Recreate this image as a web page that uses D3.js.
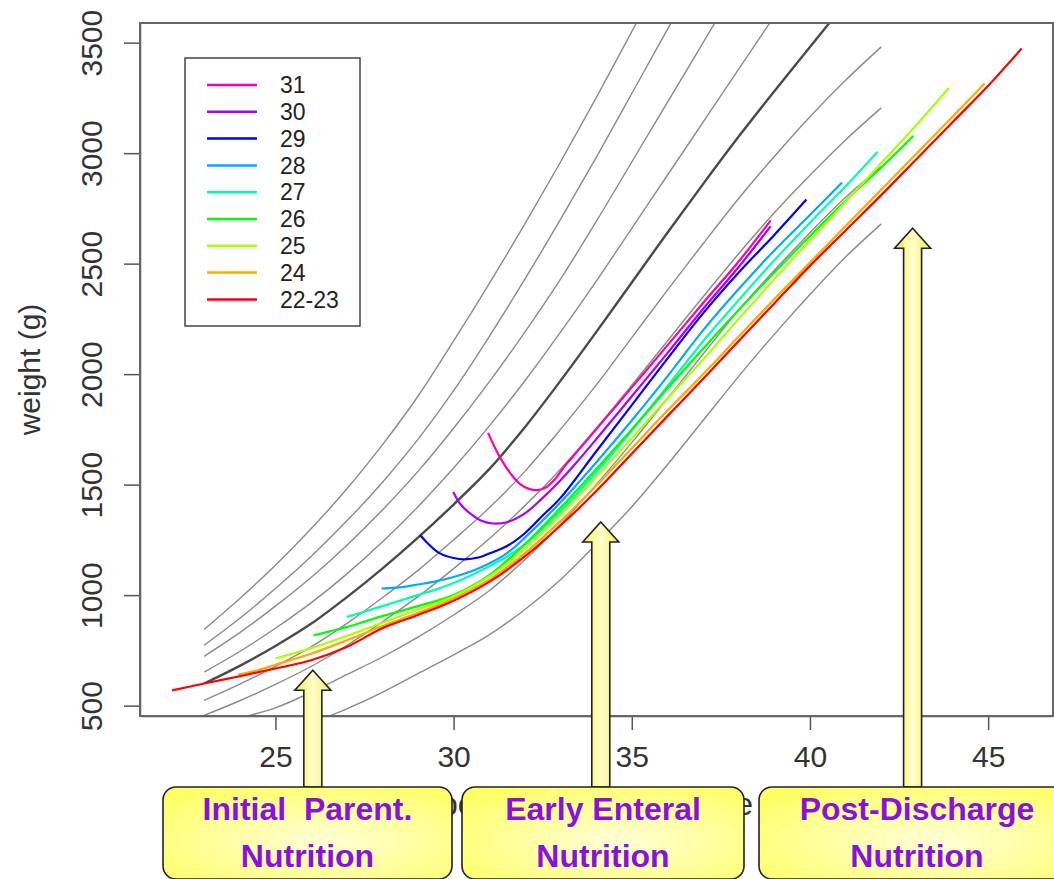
<!DOCTYPE html>
<html>
<head>
<meta charset="utf-8">
<script src="https://cdn.jsdelivr.net/npm/d3@7"></script>
<style>
  body { margin: 0; background: #fff; }
  text { font-family: "Liberation Sans", Arial, sans-serif; }
</style>
</head>
<body>
<svg id="chart" width="1054" height="879"></svg>
<script>
// Reference growth curves (grey), weeks 23..42
const refWeeks = [23, 24, 25, 26, 27, 28, 29, 30, 31, 32, 33, 34, 35, 36, 37, 38, 39, 40, 41, 42];
const ref1 = [845, 985, 1135, 1300, 1480, 1680, 1900, 2150, 2410, 2680, 2960, 3250, 3550, 3850];
const ref2 = [773, 895, 1030, 1175, 1335, 1510, 1705, 1925, 2170, 2430, 2700, 2980, 3270, 3560, 3850];
const ref3 = [723, 830, 950, 1080, 1225, 1385, 1560, 1755, 1965, 2190, 2430, 2690, 2960, 3230, 3500, 3770];
const ref4 = [652, 745, 850, 965, 1095, 1240, 1400, 1575, 1765, 1970, 2190, 2420, 2660, 2900, 3140, 3380, 3620];
const refMedian = [600, 680, 770, 870, 990, 1120, 1260, 1410, 1570, 1760, 1970, 2190, 2415, 2640, 2860, 3075, 3280, 3480, 3680];
const ref6 = [524, 597, 678, 766, 871, 988, 1112, 1250, 1395, 1560, 1750, 1950, 2165, 2380, 2590, 2795, 2985, 3165, 3330, 3481];
const ref7 = [456, 522, 596, 677, 772, 879, 993, 1120, 1255, 1405, 1570, 1755, 1950, 2150, 2350, 2545, 2730, 2900, 3060, 3205];
const ref8 = [null, 445, 490, 560, 640, 720, 810, 910, 1020, 1160, 1320, 1500, 1690, 1890, 2090, 2290, 2470, 2640, 2800, 2940];
const ref9 = [null, null, null, 420, 485, 560, 645, 730, 820, 935, 1070, 1230, 1400, 1590, 1790, 1990, 2180, 2360, 2530, 2680];

// Infant groups by gestational age at birth
const groupLabels = ["31", "30", "29", "28", "27", "26", "25", "24", "22-23"];
const groupColors = ["#FF00AA", "#AA00FF", "#0000FF", "#00AAFF", "#00FFAA", "#00FF00", "#AAFF00", "#FFAA00", "#FF0000"];

const weeks31 = [30.97, 31.15, 31.35, 31.6, 31.85, 32.1, 32.35, 32.6, 32.85, 33.1, 33.5, 34, 35, 36, 37, 38, 38.9];
const weight31 = [1734, 1670, 1610, 1550, 1505, 1482, 1475, 1488, 1525, 1580, 1655, 1750, 1940, 2130, 2322, 2510, 2696];
const weeks30 = [29.99, 30.2, 30.5, 30.8, 31.1, 31.5, 32, 32.5, 33, 33.5, 34, 35, 36, 37, 38, 38.9];
const weight30 = [1467, 1410, 1365, 1335, 1324, 1330, 1370, 1440, 1520, 1610, 1705, 1900, 2095, 2295, 2485, 2670];
const weeks29 = [29.06, 29.3, 29.6, 30, 30.3, 30.7, 31, 31.5, 32, 32.5, 33, 34, 35, 36, 37, 38, 39, 39.9];
const weight29 = [1272, 1230, 1190, 1168, 1162, 1170, 1188, 1222, 1280, 1360, 1440, 1650, 1860, 2070, 2275, 2460, 2630, 2790];
const weeks28 = [27.98, 28.5, 29, 29.5, 30, 30.5, 31, 31.5, 32, 33, 34, 35, 36, 37, 38, 39, 40, 40.9];
const weight28 = [1030, 1035, 1048, 1062, 1082, 1108, 1143, 1190, 1260, 1420, 1600, 1790, 1990, 2198, 2385, 2560, 2720, 2867];
const weeks27 = [27.0, 27.5, 28, 28.5, 29, 29.5, 30, 30.5, 31, 31.5, 32, 33, 34, 35, 36, 37, 38, 39, 40, 41, 41.9];
const weight27 = [901, 925, 950, 975, 1000, 1025, 1055, 1090, 1130, 1175, 1230, 1380, 1555, 1745, 1945, 2149, 2335, 2515, 2685, 2850, 3006];
const weeks26 = [26.07, 26.5, 27, 27.5, 28, 29, 30, 31, 32, 33, 34, 35, 36, 37, 38, 39, 40, 41, 42, 42.9];
const weight26 = [818, 835, 855, 880, 905, 950, 1000, 1090, 1230, 1395, 1570, 1750, 1935, 2115, 2290, 2460, 2625, 2785, 2935, 3078];
const weeks25 = [25, 26, 27, 28, 29, 30, 31, 32, 33, 34, 35, 36, 37, 38, 39, 40, 41, 42, 43, 43.9];
const weight25 = [713, 760, 815, 875, 935, 995, 1085, 1210, 1365, 1535, 1710, 1890, 2066, 2250, 2430, 2605, 2780, 2955, 3130, 3295];
const weeks24 = [23.95, 24.5, 25, 26, 27, 28, 29, 30, 31, 32, 33, 34, 35, 36, 37, 38, 39, 40, 41, 42, 43, 44, 44.9];
const weight24 = [640, 660, 685, 735, 795, 860, 920, 985, 1070, 1190, 1335, 1495, 1665, 1835, 2000, 2170, 2340, 2505, 2670, 2835, 3000, 3165, 3315];
const weeks22 = [22.1, 23, 24, 25, 26, 27, 28, 29, 30, 31, 32, 33, 34, 35, 36, 37, 38, 39, 40, 41, 42, 43, 44, 45, 45.94];
const weight22 = [569, 600, 633, 668, 705, 765, 850, 910, 975, 1060, 1175, 1315, 1470, 1640, 1810, 1978, 2150, 2320, 2490, 2650, 2810, 2975, 3140, 3305, 3474];

const xTicks = [25, 30, 35, 40, 45];
const yTicks = [500, 1000, 1500, 2000, 2500, 3000, 3500];

const phaseLabels = [["Initial  Parent.", "Nutrition"], ["Early Enteral", "Nutrition"], ["Post-Discharge", "Nutrition"]];
const phaseWeeks = [26.05, 34.13, 42.88];   // where each arrow stands
const phaseArrowTip = [660, 1331, 2660];    // weight reached by arrow tip

// Plot frame
const plot = {left: 140, right: 1053, top: 23, bottom: 716};

const svg = d3.select("#chart");

const x = d3.scaleLinear().domain([21.2, 46.82]).range([plot.left, plot.right]);
const y = d3.scaleLinear().domain([453, 3589]).range([plot.bottom, plot.top]);

const defs = svg.append("defs");
defs.append("clipPath").attr("id", "clip")
    .append("rect")
    .attr("x", plot.left).attr("y", plot.top)
    .attr("width", plot.right - plot.left).attr("height", plot.bottom - plot.top);

const boxGrad = defs.append("radialGradient").attr("id", "boxGrad")
    .attr("cx", "55%").attr("cy", "60%").attr("r", "70%");
boxGrad.append("stop").attr("offset", "0%").attr("stop-color", "#FFFFD8");
boxGrad.append("stop").attr("offset", "100%").attr("stop-color", "#FFFF66");

const arrowGrad = defs.append("linearGradient").attr("id", "arrowGrad")
    .attr("x1", "0%").attr("x2", "100%").attr("y1", "0%").attr("y2", "0%");
arrowGrad.append("stop").attr("offset", "0%").attr("stop-color", "#F2EE50");
arrowGrad.append("stop").attr("offset", "50%").attr("stop-color", "#FFFFCC");
arrowGrad.append("stop").attr("offset", "100%").attr("stop-color", "#F2EE50");

const line = d3.line()
    .defined(d => d[1] != null)
    .x(d => x(d[0]))
    .y(d => y(d[1]))
    .curve(d3.curveCatmullRom.alpha(0.5));

// Grey reference curves
const refCurves = [ref1, ref2, ref3, ref4, ref6, ref7, ref8, ref9];
const lines = svg.append("g").attr("clip-path", "url(#clip)");

lines.selectAll("path.ref")
    .data(refCurves)
    .enter()
    .append("path")
    .attr("class", "ref")
    .attr("fill", "none")
    .attr("stroke", "#8a8a8a")
    .attr("stroke-width", 1.4)
    .attr("d", vals => line(vals.map((v, i) => [refWeeks[i], v])));

lines.append("path")
    .attr("fill", "none")
    .attr("stroke", "#4a4a4a")
    .attr("stroke-width", 2.4)
    .attr("d", line(refMedian.map((v, i) => [refWeeks[i], v])));

// Coloured group curves
const groupWeeks = [weeks31, weeks30, weeks29, weeks28, weeks27, weeks26, weeks25, weeks24, weeks22];
const groupWeights = [weight31, weight30, weight29, weight28, weight27, weight26, weight25, weight24, weight22];

lines.selectAll("path.grp")
    .data(groupLabels.map((g, i) => i))
    .enter()
    .append("path")
    .attr("class", "grp")
    .attr("fill", "none")
    .attr("stroke", i => groupColors[i])
    .attr("stroke-width", 2.2)
    .attr("d", i => line(groupWeeks[i].map((w, j) => [w, groupWeights[i][j]])));

// Axes
const yAxis = svg.append("g")
    .attr("transform", `translate(${plot.left},0)`)
    .call(d3.axisLeft(y).tickValues(yTicks).tickFormat(d3.format("d")).tickSize(16).tickSizeOuter(0));
yAxis.selectAll("text")
    .attr("x", 0).attr("dy", 0)
    .attr("transform", "translate(-38,0) rotate(-90)")
    .attr("text-anchor", "middle");

const xAxis = svg.append("g")
    .attr("transform", `translate(0,${plot.bottom})`)
    .call(d3.axisBottom(x).tickValues(xTicks).tickFormat(d3.format("d")).tickSize(14).tickSizeOuter(0));
xAxis.selectAll("text").attr("y", 51).attr("dy", 0);

svg.selectAll(".tick text")
    .style("font-size", "30px")
    .attr("fill", "#333");
svg.selectAll(".tick line").attr("stroke", "#555").attr("stroke-width", 1.5);
svg.selectAll(".domain").attr("stroke", "#555").attr("stroke-width", 1.5);

// Plot box
svg.append("rect")
    .attr("x", plot.left).attr("y", plot.top)
    .attr("width", plot.right - plot.left).attr("height", plot.bottom - plot.top)
    .attr("fill", "none")
    .attr("stroke", "#666")
    .attr("stroke-width", 2);

// Axis titles
svg.append("text")
    .attr("transform", `translate(40,${(plot.top + plot.bottom) / 2}) rotate(-90)`)
    .attr("text-anchor", "middle")
    .style("font-size", "30px")
    .attr("fill", "#333")
    .text("weight (g)");

// x title sits mostly behind the nutrition boxes, as in the original
svg.append("text")
    .attr("x", (plot.left + plot.right) / 2)
    .attr("y", 815)
    .attr("text-anchor", "middle")
    .style("font-size", "32px")
    .attr("fill", "#333")
    .text("post-conceptional age");

// Legend
const legend = svg.append("g");
legend.append("rect")
    .attr("x", 185).attr("y", 58).attr("width", 175).attr("height", 268)
    .attr("fill", "#fff").attr("stroke", "#444").attr("stroke-width", 1.5);
const item = legend.selectAll("g.item")
    .data(groupLabels)
    .enter()
    .append("g")
    .attr("class", "item")
    .attr("transform", (d, i) => `translate(0,${85 + i * 26.8})`);
item.append("line")
    .attr("x1", 207).attr("x2", 257)
    .attr("stroke", (d, i) => groupColors[i])
    .attr("stroke-width", 2.5);
item.append("text")
    .attr("x", 280).attr("dy", "0.36em")
    .style("font-size", "23px")
    .attr("fill", "#222")
    .text(d => d);

// Arrows from the nutrition boxes
const boxTop = 787;
const arrows = svg.append("g");
arrows.selectAll("path")
    .data(phaseWeeks.map((w, i) => i))
    .enter()
    .append("path")
    .attr("fill", "url(#arrowGrad)")
    .attr("stroke", "#222")
    .attr("stroke-width", 1.6)
    .attr("d", i => {
        const cx = x(phaseWeeks[i]);
        const tip = y(phaseArrowTip[i]);
        const sw = 9, hw = 18, hh = 20;
        return `M${cx},${tip} L${cx + hw},${tip + hh} L${cx + sw},${tip + hh} L${cx + sw},${boxTop}
                L${cx - sw},${boxTop} L${cx - sw},${tip + hh} L${cx - hw},${tip + hh} Z`;
    });

// Nutrition phase boxes
const boxX = [[163, 452], [462, 744], [759, 1075]];
const boxes = svg.append("g");
const box = boxes.selectAll("g")
    .data(phaseLabels)
    .enter()
    .append("g");
box.append("rect")
    .attr("x", (d, i) => boxX[i][0])
    .attr("y", boxTop)
    .attr("width", (d, i) => boxX[i][1] - boxX[i][0])
    .attr("height", 92)
    .attr("rx", 13)
    .attr("fill", "url(#boxGrad)")
    .attr("stroke", "#222")
    .attr("stroke-width", 1.6);
box.each(function(d, i) {
    const g = d3.select(this);
    const cx = (boxX[i][0] + boxX[i][1]) / 2;
    d.forEach((t, k) => {
        g.append("text")
            .attr("x", cx)
            .attr("y", 820 + k * 47)
            .attr("text-anchor", "middle")
            .style("font-size", "32px")
            .style("font-weight", "bold")
            .style("white-space", "pre")
            .attr("fill", "#8A10E0")
            .text(t);
    });
});
</script>
</body>
</html>
